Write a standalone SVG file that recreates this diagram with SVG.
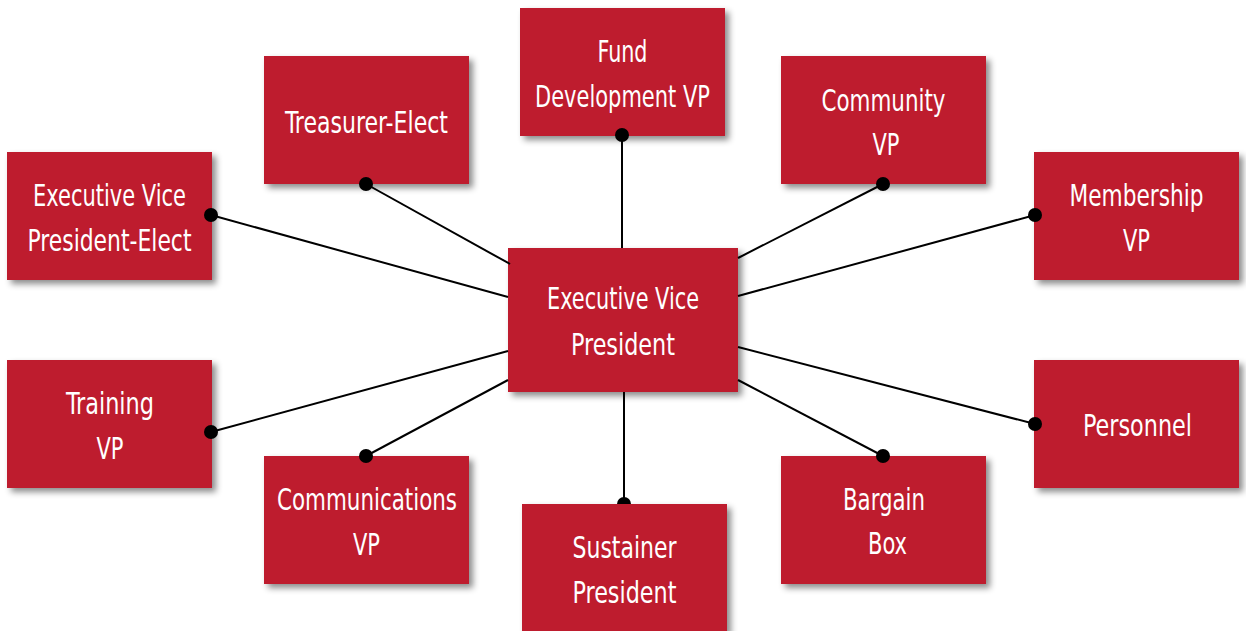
<svg xmlns="http://www.w3.org/2000/svg" width="1246" height="631" viewBox="0 0 1246 631">
<defs>
<filter id="sh" x="-10%" y="-10%" width="125%" height="130%">
<feDropShadow dx="4" dy="4" stdDeviation="3" flood-color="#000" flood-opacity="0.45"/>
</filter>
<style>
.box{fill:#BE1E2D;filter:url(#sh);}
.t{fill:#fff;font-family:"DejaVu Sans Condensed","DejaVu Sans",sans-serif;font-size:30px;text-anchor:middle;}
.ln{stroke:#000;stroke-width:2;fill:none;}
.dot{fill:#000;}
</style>
</defs>
<rect width="1246" height="631" fill="#fff"/>
<g id="connectors-under">
<line class="ln" x1="624" y1="392" x2="624" y2="504"/>
<path class="dot" d="M617,504 A7,7 0 0 1 631,504 Z"/>
</g>
<g id="node-sustainer"><rect class="box" x="522" y="504" width="205" height="128"/>
<text class="t" x="624.5" y="558" textLength="104" lengthAdjust="spacingAndGlyphs">Sustainer</text>
<text class="t" x="624.5" y="603" textLength="104" lengthAdjust="spacingAndGlyphs">President</text></g>
<g id="node-treasurer"><rect class="box" x="264" y="56" width="205" height="128"/>
<text class="t" x="366.5" y="133" textLength="163" lengthAdjust="spacingAndGlyphs">Treasurer-Elect</text></g>
<g id="node-fund"><rect class="box" x="520" y="8" width="205" height="128"/>
<text class="t" x="622.5" y="62" textLength="50" lengthAdjust="spacingAndGlyphs">Fund</text>
<text class="t" x="622.5" y="107" textLength="175" lengthAdjust="spacingAndGlyphs">Development VP</text></g>
<g id="node-community"><rect class="box" x="781" y="56" width="205" height="128"/>
<text class="t" x="883.5" y="111" textLength="124" lengthAdjust="spacingAndGlyphs">Community</text>
<text class="t" x="886" y="155" textLength="27" lengthAdjust="spacingAndGlyphs">VP</text></g>
<g id="node-evpe"><rect class="box" x="7" y="152" width="205" height="128"/>
<text class="t" x="109.5" y="206" textLength="153" lengthAdjust="spacingAndGlyphs">Executive Vice</text>
<text class="t" x="109.5" y="251" textLength="164" lengthAdjust="spacingAndGlyphs">President-Elect</text></g>
<g id="node-membership"><rect class="box" x="1034" y="152" width="205" height="128"/>
<text class="t" x="1136.5" y="206" textLength="134" lengthAdjust="spacingAndGlyphs">Membership</text>
<text class="t" x="1136.5" y="251" textLength="27" lengthAdjust="spacingAndGlyphs">VP</text></g>
<g id="node-training"><rect class="box" x="7" y="360" width="205" height="128"/>
<text class="t" x="110" y="414" textLength="88" lengthAdjust="spacingAndGlyphs">Training</text>
<text class="t" x="110" y="459" textLength="27" lengthAdjust="spacingAndGlyphs">VP</text></g>
<g id="node-personnel"><rect class="box" x="1034" y="360" width="205" height="128"/>
<text class="t" x="1137.5" y="436" textLength="109" lengthAdjust="spacingAndGlyphs">Personnel</text></g>
<g id="node-communications"><rect class="box" x="264" y="456" width="205" height="128"/>
<text class="t" x="367" y="510" textLength="180" lengthAdjust="spacingAndGlyphs">Communications</text>
<text class="t" x="366.5" y="555" textLength="27" lengthAdjust="spacingAndGlyphs">VP</text></g>
<g id="node-bargain"><rect class="box" x="781" y="456" width="205" height="128"/>
<text class="t" x="884" y="510" textLength="82" lengthAdjust="spacingAndGlyphs">Bargain</text>
<text class="t" x="887.5" y="554" textLength="39" lengthAdjust="spacingAndGlyphs">Box</text></g>
<g id="node-evp"><rect class="box" x="508" y="248" width="230" height="144"/>
<text class="t" x="623" y="309" textLength="152" lengthAdjust="spacingAndGlyphs">Executive Vice</text>
<text class="t" x="623" y="355" textLength="104" lengthAdjust="spacingAndGlyphs">President</text></g>
<g id="connectors">
<line class="ln" x1="211" y1="215" x2="508" y2="297"/>
<line class="ln" x1="366" y1="184" x2="510" y2="264"/>
<line class="ln" x1="622" y1="135" x2="622" y2="248"/>
<line class="ln" x1="883" y1="184" x2="738" y2="258"/>
<line class="ln" x1="1035" y1="215" x2="738" y2="296"/>
<line class="ln" x1="211" y1="432" x2="508" y2="351"/>
<line class="ln" x1="366" y1="456" x2="508" y2="380"/>
<line class="ln" x1="883" y1="456" x2="738" y2="380"/>
<line class="ln" x1="1035" y1="424" x2="738" y2="347"/>
<circle class="dot" cx="211" cy="215" r="7"/>
<circle class="dot" cx="366" cy="184" r="7"/>
<circle class="dot" cx="622" cy="135" r="7"/>
<circle class="dot" cx="883" cy="184" r="7"/>
<circle class="dot" cx="1035" cy="215" r="7"/>
<circle class="dot" cx="211" cy="432" r="7"/>
<circle class="dot" cx="366" cy="456" r="7"/>
<circle class="dot" cx="883" cy="456" r="7"/>
<circle class="dot" cx="1035" cy="424" r="7"/>
</g>
</svg>
